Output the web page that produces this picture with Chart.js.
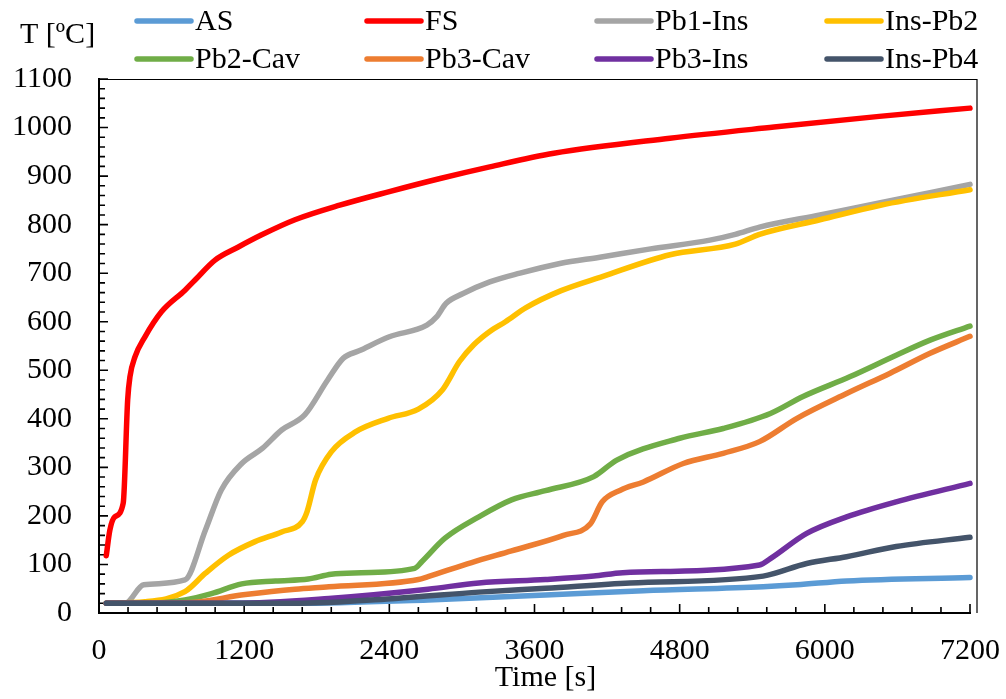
<!DOCTYPE html>
<html>
<head>
<meta charset="utf-8">
<script src="https://cdn.jsdelivr.net/npm/chart.js@4.4.1/dist/chart.umd.min.js"></script>
<style>
  body { margin: 0; background: #fff; }
  canvas { display: block; }
</style>
</head>
<body>
<canvas id="grafico" width="1006" height="699"></canvas>
<script>
// series names and colours (legend order)
const seriesNames = ['AS', 'FS', 'Pb1-Ins', 'Ins-Pb2', 'Pb2-Cav', 'Pb3-Cav', 'Pb3-Ins', 'Ins-Pb4'];
const seriesColors = ['#5B9BD5', '#FF0000', '#A5A5A5', '#FFC000', '#70AD47', '#ED7D31', '#7030A0', '#44546A'];

// axis ticks
const xTicks = [0, 1200, 2400, 3600, 4800, 6000, 7200];
const yTicks = [0, 100, 200, 300, 400, 500, 600, 700, 800, 900, 1000, 1100];

// time [s] / temperature [ºC]
const asTime = [60, 1620, 2720, 3690, 4500, 5490, 5770, 6180, 7200];
const asTemp = [20, 20, 27, 37, 46, 54, 58, 66, 73];

const fsTime = [60, 90, 130, 200, 237, 256, 298, 380, 518, 711, 794, 959, 1152, 1345, 1620, 1990, 2400, 2820, 3230, 3760, 4720, 5580, 6450, 7200];
const fsTemp = [118, 171, 198, 226, 439, 487, 528, 569, 621, 665, 686, 727, 754, 779, 810, 840, 868, 895, 919, 947, 978, 1001, 1023, 1040];

const pb1InsTime = [60, 215, 370, 710, 880, 1010, 1180, 1350, 1510, 1700, 1890, 2020, 2150, 2400, 2710, 2790, 2870, 3010, 3230, 3480, 3810, 4140, 4560, 5050, 5260, 5460, 5960, 6460, 6870, 7200];
const pb1InsTemp = [20, 20, 58, 68, 171, 253, 308, 339, 377, 408, 480, 525, 540, 569, 593, 610, 638, 658, 682, 700, 720, 733, 750, 768, 780, 795, 820, 845, 866, 883];

const insPb2Time = [60, 380, 710, 880, 1070, 1290, 1510, 1680, 1720, 1790, 1920, 2120, 2390, 2640, 2840, 2980, 3100, 3230, 3360, 3530, 3820, 4160, 4720, 5260, 5460, 5960, 6460, 7200];
const insPb2Temp = [20, 23, 44, 82, 119, 147, 167, 188, 209, 274, 332, 373, 401, 420, 460, 518, 553, 580, 600, 629, 664, 693, 738, 760, 780, 810, 840, 872];

const pb2CavTime = [60, 380, 710, 930, 1180, 1460, 1730, 1920, 2170, 2610, 2670, 2860, 3140, 3410, 3690, 4090, 4280, 4800, 5160, 5550, 5820, 6210, 6590, 6870, 7200];
const pb2CavTemp = [20, 20, 27, 40, 60, 66, 70, 80, 83, 92, 106, 154, 198, 233, 252, 281, 315, 360, 380, 411, 446, 487, 531, 562, 591];

const pb3CavTime = [60, 710, 1210, 1620, 1900, 2640, 2720, 3080, 3410, 3840, 4060, 4160, 4310, 4500, 4830, 5160, 5460, 5770, 6180, 6540, 6870, 7200];
const pb3CavTemp = [20, 21, 38, 49, 54, 69, 75, 104, 128, 160, 183, 229, 253, 270, 308, 329, 353, 401, 452, 494, 535, 570];

const pb3InsTime = [60, 1120, 1900, 2720, 3140, 3690, 4090, 4330, 5460, 5550, 5850, 6180, 6590, 7200];
const pb3InsTemp = [20, 20, 30, 49, 62, 69, 76, 83, 99, 112, 164, 198, 229, 267];

const insPb4Time = [60, 1620, 2450, 3140, 3690, 4390, 5490, 5850, 6180, 6590, 7200];
const insPb4Temp = [20, 20, 30, 43, 51, 62, 76, 102, 116, 137, 156];

const allTimes = [asTime, fsTime, pb1InsTime, insPb2Time, pb2CavTime, pb3CavTime, pb3InsTime, insPb4Time];
const allTemps = [asTemp, fsTemp, pb1InsTemp, insPb2Temp, pb2CavTemp, pb3CavTemp, pb3InsTemp, insPb4Temp];

const fonte = '"Liberation Serif", "Times New Roman", serif';

const datasets = seriesNames.map((nome, i) => ({
  label: nome,
  data: allTimes[i].map((t, k) => ({ x: t, y: allTemps[i][k] })),
  borderColor: seriesColors[i],
  backgroundColor: seriesColors[i],
  borderWidth: 5.5,
  borderCapStyle: 'round',
  borderJoinStyle: 'round',
  pointRadius: 0,
  cubicInterpolationMode: 'monotone',
  clip: false,
  order: seriesNames.length - i
}));

// inside tick marks + frame
const ticksDentro = {
  id: 'ticksDentro',
  beforeDatasetsDraw(chart) {
    const { ctx, chartArea: a, scales: { x, y } } = chart;
    ctx.save();
    ctx.strokeStyle = '#000';
    ctx.lineWidth = 1.6;
    ctx.beginPath();
    for (let v = 0; v <= 1100; v += 20) {
      const py = y.getPixelForValue(v);
      const len = v % 100 === 0 ? 9 : 6;
      ctx.moveTo(a.left, py);
      ctx.lineTo(a.left + len, py);
    }
    for (let t = 0; t <= 7200; t += 240) {
      const px = x.getPixelForValue(t);
      const len = t % 1200 === 0 ? 9 : 6;
      ctx.moveTo(px, a.bottom);
      ctx.lineTo(px, a.bottom - len);
    }
    ctx.stroke();
    // top and right frame
    ctx.lineWidth = 1.2;
    ctx.beginPath();
    ctx.moveTo(a.left, a.top + 0.5);
    ctx.lineTo(a.right + 7, a.top + 0.5);
    ctx.lineTo(a.right + 7, a.bottom);
    ctx.stroke();
    ctx.restore();
  }
};

// legend in 2 rows x 4 columns, axis titles
const legendaTitulos = {
  id: 'legendaTitulos',
  afterDraw(chart) {
    const { ctx, chartArea: a } = chart;
    ctx.save();
    ctx.font = '30px ' + fonte;
    ctx.fillStyle = '#000';
    ctx.textBaseline = 'middle';
    seriesNames.forEach((nome, i) => {
      const col = i % 4;
      const row = Math.floor(i / 4);
      const x0 = 137 + col * 230;
      const yc = 21 + row * 38;
      ctx.strokeStyle = seriesColors[i];
      ctx.lineWidth = 5.5;
      ctx.lineCap = 'round';
      ctx.beginPath();
      ctx.moveTo(x0, yc);
      ctx.lineTo(x0 + 54, yc);
      ctx.stroke();
      ctx.textAlign = 'left';
      ctx.fillText(nome, x0 + 58, yc + 1);
    });
    ctx.textAlign = 'left';
    ctx.fillText('T [ºC]', 20, 35);
    ctx.textAlign = 'center';
    ctx.fillText('Time [s]', (a.left + a.right) / 2 + 11, 678);
    ctx.restore();
  }
};

new Chart(document.getElementById('grafico'), {
  type: 'line',
  data: { datasets },
  options: {
    responsive: false,
    animation: false,
    layout: { padding: { top: 79, right: 36, left: 0, bottom: 0 } },
    plugins: { legend: { display: false }, tooltip: { enabled: false } },
    scales: {
      x: {
        type: 'linear',
        min: 0,
        max: 7200,
        afterBuildTicks: s => { s.ticks = xTicks.map(v => ({ value: v })); },
        afterFit: s => { s.height = 86; s.paddingLeft = 0; s.paddingRight = 0; },
        grid: { display: false, drawTicks: false },
        border: { display: true, color: '#000', width: 2 },
        ticks: { color: '#000', font: { family: fonte, size: 30 }, padding: 20, maxRotation: 0, callback: v => String(v) }
      },
      y: {
        min: 0,
        max: 1100,
        afterBuildTicks: s => { s.ticks = yTicks.map(v => ({ value: v })); },
        afterFit: s => { s.width = 99; s.paddingTop = 0; s.paddingBottom = 0; },
        grid: { display: false, drawTicks: false },
        border: { display: true, color: '#000', width: 2 },
        ticks: { color: '#000', font: { family: fonte, size: 30 }, padding: 27, callback: v => String(v) }
      }
    }
  },
  plugins: [ticksDentro, legendaTitulos]
});
</script>
</body>
</html>
